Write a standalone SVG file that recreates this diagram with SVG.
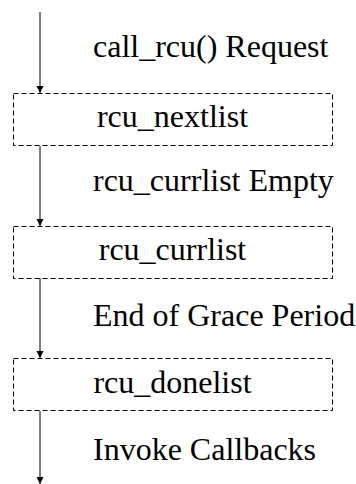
<svg xmlns="http://www.w3.org/2000/svg" width="356" height="484" viewBox="0 0 356 484">
  <style>
    .box { fill: none; stroke: #000; stroke-width: 1; stroke-dasharray: 5 3; }
    .edge { stroke: #000; stroke-width: 1; fill: none; marker-end: url(#arrow); }
    text { font-family: 'Liberation Serif', 'Times New Roman', Times, serif; font-size: 32px; fill: #000; }
    .name { text-anchor: middle; }
  </style>
  <defs>
    <marker id="arrow" viewBox="0 0 7 9" refX="7" refY="3.5" markerWidth="7" markerHeight="9" markerUnits="userSpaceOnUse" orient="auto">
      <path d="M0,0 L7,3.5 L0,7 z" fill="#000"/>
    </marker>
  </defs>
  <rect width="356" height="484" fill="#fff"/>

  <!-- connectors between the callback lists, with their labels -->
  <g id="connectors">
    <line class="edge" x1="40" y1="12" x2="40" y2="93"/>
    <line class="edge" x1="40" y1="146" x2="40" y2="226"/>
    <line class="edge" x1="40" y1="278" x2="40" y2="358"/>
    <line class="edge" x1="40" y1="411" x2="40" y2="484"/>
    <text x="93" y="57">call_rcu() Request</text>
    <text x="93" y="191">rcu_currlist Empty</text>
    <text x="93" y="326">End of Grace Period</text>
    <text x="93" y="460">Invoke Callbacks</text>
  </g>

  <g id="rcu_nextlist">
    <rect class="box" x="13.5" y="93.5" width="319" height="52"/>
    <text class="name" x="172.5" y="127">rcu_nextlist</text>
  </g>
  <g id="rcu_currlist">
    <rect class="box" x="13.5" y="226.5" width="319" height="52"/>
    <text class="name" x="172.5" y="260">rcu_currlist</text>
  </g>
  <g id="rcu_donelist">
    <rect class="box" x="13.5" y="358.5" width="319" height="52"/>
    <text class="name" x="172.5" y="393">rcu_donelist</text>
  </g>
</svg>
